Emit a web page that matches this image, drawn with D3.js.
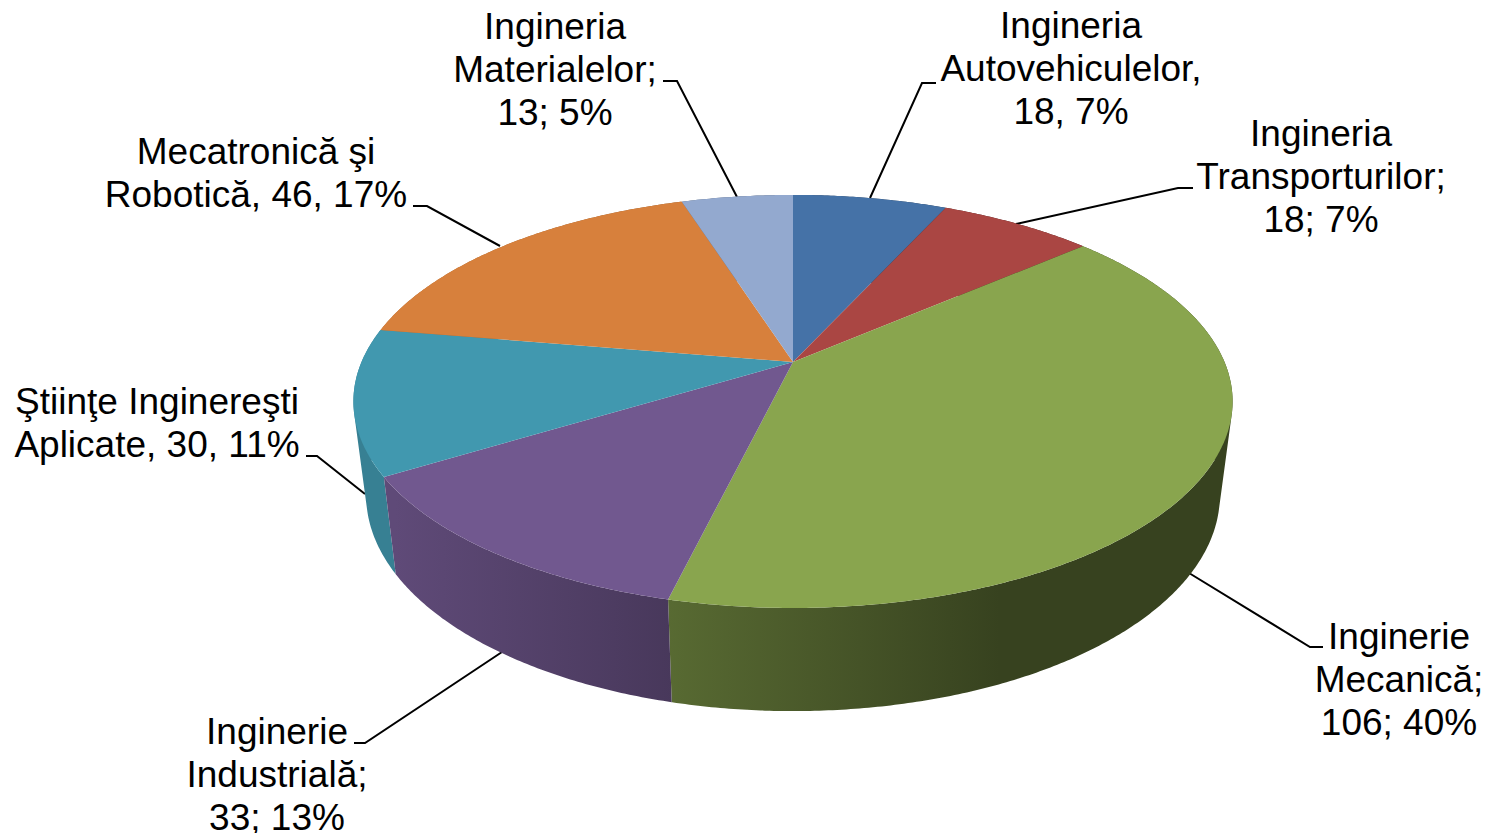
<!DOCTYPE html>
<html>
<head>
<meta charset="utf-8">
<script src="https://cdn.jsdelivr.net/npm/d3@7"></script>
<style>
  html, body { margin: 0; padding: 0; background: #fff; }
  text { font-family: "Liberation Sans", Arial, sans-serif; font-size: 37px; fill: #000; white-space: pre; }
</style>
</head>
<body>
<div id="chart"></div>
<script>
// data
var categories = ["Ingineria Autovehiculelor", "Ingineria Transporturilor", "Inginerie Mecanică",
                  "Inginerie Industrială", "Ştiinţe Inginereşti Aplicate", "Mecatronică şi Robotică", "Ingineria Materialelor"];
var values = [18, 18, 106, 33, 30, 46, 13];
var colors = ["#4572a7", "#aa4643", "#89a54e", "#71588f", "#4198af", "#d7803c", "#93a9cf"];
var labelLines = [
  ["Ingineria", "Autovehiculelor,", "18, 7%"],
  ["Ingineria", "Transporturilor;", "18; 7%"],
  ["Inginerie", "Mecanică;", "106; 40%"],
  ["Inginerie", "Industrială;", "33; 13%"],
  ["Ştiinţe Inginereşti", "Aplicate, 30, 11%"],
  ["Mecatronică şi", "Robotică, 46, 17%"],
  ["Ingineria", "Materialelor;", "13; 5%"]
];

// label placement: centre x, first baseline y, and the leader polyline
var labelX = [1071, 1321, 1399, 277, 157, 256, 555];
var labelY = [38, 146, 649, 744, 413.5, 164, 39];
var leaders = [
  [[870, 198], [922, 83], [936, 83]],
  [[1016, 224], [1178, 188], [1193, 188]],
  [[1189, 573], [1310, 647], [1323, 647]],
  [[502, 652], [365, 743], [354, 743]],
  [[365, 494], [317, 456], [306, 456]],
  [[500, 246], [427, 206], [413, 206]],
  [[737, 197], [677, 81], [663, 81]]
];

var width = 1488, height = 833, lineGap = 43;

var svg = d3.select("#chart").append("svg")
  .attr("width", width)
  .attr("height", height)
  .style("display", "block");

// the disc is seen in perspective, so the apex is not the middle of the ellipse
var k = 0.191;
var topRing = { cx: 793, cy: 362, R: 431.5, S: 199 };
var lowRing = { cx: 793, cy: 454, R: 419, S: 208 };

function project(ring, a) {
  var X = Math.sin(a), Y = Math.cos(a), w = 1 + k * Y;
  return [ring.cx + ring.R * X / w, ring.cy - ring.S * Y / w];
}

function darker(color, f) {
  var c = d3.rgb(color);
  return d3.rgb(c.r * f, c.g * f, c.b * f).formatHex();
}

// side wall gets darker from left to right, one gradient per slice
var defs = svg.append("defs");
colors.forEach(function(color, i) {
  var grad = defs.append("linearGradient")
    .attr("id", "wall" + i)
    .attr("gradientUnits", "userSpaceOnUse")
    .attr("x1", 395).attr("x2", 1000)
    .attr("y1", 0).attr("y2", 0);
  grad.append("stop").attr("offset", 0).attr("stop-color", darker(color, 0.84));
  grad.append("stop").attr("offset", 1).attr("stop-color", darker(color, 0.40));
});

var pie = d3.pie().sort(null).value(function(d) { return d; });
var arcs = pie(values);
var step = Math.PI / 360;

// leaders go first, the pie covers their ends
svg.append("g").selectAll("polyline")
  .data(leaders)
  .enter().append("polyline")
  .attr("points", function(d) { return d.join(" "); })
  .attr("fill", "none")
  .attr("stroke", "#000")
  .attr("stroke-width", 2);

// wall of a slice: one path of small quads, all wound the same way so they merge
function wallPath(d) {
  var out = "";
  d3.range(d.startAngle, d.endAngle, step).forEach(function(a) {
    var a1 = Math.min(a + step, d.endAngle);
    var quad = [project(topRing, a), project(topRing, a1), project(lowRing, a1), project(lowRing, a)];
    if (d3.polygonArea(quad) < 0) quad.reverse();
    out += d3.line()(quad) + "Z";
  });
  return out;
}

function midCos(d) { return Math.cos((d.startAngle + d.endAngle) / 2); }

svg.append("g").selectAll("path")
  .data(arcs.slice().sort(function(p, q) { return midCos(q) - midCos(p); }))
  .enter().append("path")
  .attr("d", wallPath)
  .attr("fill", function(d) { return "url(#wall" + d.index + ")"; });

// top face
svg.append("g").selectAll("path")
  .data(arcs)
  .enter().append("path")
  .attr("d", function(d) {
    var pts = d3.range(d.startAngle, d.endAngle, step).map(function(a) { return project(topRing, a); });
    pts.push(project(topRing, d.endAngle));
    pts.push([topRing.cx, topRing.cy]);
    return d3.line()(pts) + "Z";
  })
  .attr("fill", function(d, i) { return colors[i]; });

// labels
var labels = svg.append("g").selectAll("text")
  .data(labelLines)
  .enter().append("text")
  .attr("text-anchor", "middle")
  .attr("x", function(d, i) { return labelX[i]; })
  .attr("y", function(d, i) { return labelY[i]; });

labels.selectAll("tspan")
  .data(function(d, i) { return d.map(function(t, j) { return { t: t, j: j, x: labelX[i], y: labelY[i] }; }); })
  .enter().append("tspan")
  .attr("x", function(d) { return d.x; })
  .attr("y", function(d) { return d.y + d.j * lineGap; })
  .text(function(d) { return d.t; });
</script>
</body>
</html>
